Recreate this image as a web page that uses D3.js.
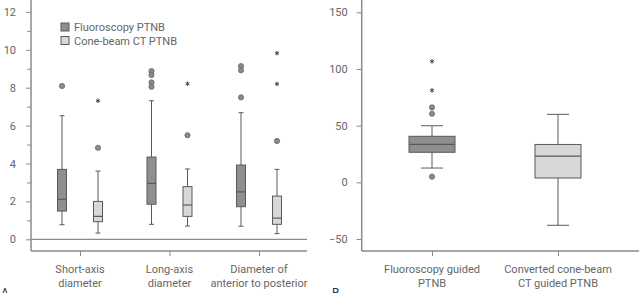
<!DOCTYPE html>
<html>
<head>
<meta charset="utf-8">
<script src="https://cdn.jsdelivr.net/npm/d3@7"></script>
<style>
  body { margin: 0; background: #fff; }
  svg text { font-family: Roboto, "Noto Sans", sans-serif; fill: #666; }
</style>
</head>
<body>
<svg id="chart" width="639" height="293"></svg>
<script>
// Panel A: lesion size (cm)
const categoriesA = ["Short-axis|diameter", "Long-axis|diameter", "Diameter of|anterior to posterior"];
const seriesA = ["Fluoroscopy PTNB", "Cone-beam CT PTNB"];
// [low whisker, Q1, median, Q3, high whisker] per category
const fluoroA = [[0.77, 1.49, 2.11, 3.69, 6.52], [0.79, 1.85, 2.95, 4.34, 7.31], [0.69, 1.72, 2.50, 3.92, 6.68]];
const coneA = [[0.33, 0.93, 1.21, 2.0, 3.6], [0.70, 1.21, 1.81, 2.78, 3.71], [0.30, 0.79, 1.12, 2.28, 3.69]];
const fluoroOutCircA = [[8.09], [8.88, 8.67, 8.28, 8.05], [9.14, 8.92, 7.49]];
const fluoroOutStarA = [[], [], []];
const coneOutCircA = [[4.83], [5.49], [5.19]];
const coneOutStarA = [[7.31], [8.21], [9.82, 8.2]];
const ticksA = [0, 2, 4, 6, 8, 10, 12];

// Panel B
const categoriesB = ["Fluoroscopy guided|PTNB", "Converted cone-beam|CT guided PTNB"];
const statsB = [[12.6, 26.5, 33.5, 40.6, 49.9], [-37.9, 3.8, 23.2, 33.4, 60]];
const outCircB = [[66.1, 60.5, 5.0], []];
const outStarB = [[106.7, 81.1], []];
const ticksB = [-50, 0, 50, 100, 150];

const fills = ["#8f8f8f", "#d8d8d8"];
const stroke = "#5a5a5a";
const axisColor = "#8a8a8a";

const svg = d3.select("#chart");
const star = d3.symbol().type(d3.symbolAsterisk).size(14);

function drawLabels(g, x, cats, y0) {
  cats.forEach(c => {
    const t = g.append("text").attr("text-anchor", "middle").attr("font-size", 11);
    c.split("|").forEach((line, i) => {
      t.append("tspan").attr("x", x(c)).attr("y", y0 + i * 14).text(line);
    });
  });
}

function drawBox(g, cx, w, capW, s, y, fill) {
  const [lo, q1, med, q3, hi] = s;
  g.append("line").attr("x1", cx).attr("x2", cx).attr("y1", y(hi)).attr("y2", y(q3)).attr("stroke", stroke);
  g.append("line").attr("x1", cx).attr("x2", cx).attr("y1", y(q1)).attr("y2", y(lo)).attr("stroke", stroke);
  [lo, hi].forEach(v => g.append("line").attr("x1", cx - capW / 2).attr("x2", cx + capW / 2)
    .attr("y1", y(v)).attr("y2", y(v)).attr("stroke", stroke));
  g.append("rect").attr("x", cx - w / 2).attr("y", y(q3)).attr("width", w).attr("height", y(q1) - y(q3))
    .attr("fill", fill).attr("stroke", stroke);
  g.append("line").attr("x1", cx - w / 2).attr("x2", cx + w / 2).attr("y1", y(med)).attr("y2", y(med))
    .attr("stroke", stroke).attr("stroke-width", 1.2);
}

function drawOutliers(g, cx, circ, stars, y) {
  circ.forEach(v => g.append("circle").attr("cx", cx).attr("cy", y(v)).attr("r", 2.6)
    .attr("fill", "#8a8a8a").attr("stroke", "#666").attr("stroke-width", 0.8));
  stars.forEach(v => g.append("path").attr("d", star)
    .attr("transform", `translate(${cx},${y(v)})`)
    .attr("fill", "none").attr("stroke", "#444").attr("stroke-width", 1));
}

function styleAxis(a) {
  a.select(".domain").attr("stroke", axisColor).attr("stroke-width", 1.5);
  a.selectAll(".tick line").attr("stroke", axisColor);
  a.selectAll(".tick text").attr("font-size", 11).style("fill", "#666")
    .attr("font-family", "Roboto, sans-serif");
}

// ---- Panel A ----
const yA = d3.scaleLinear().domain([0, 12]).range([239.3, 11.9]);
const xA = d3.scalePoint().domain(categoriesA).range([80, 259]);
const gA = svg.append("g");

const yAxisA = gA.append("g").attr("transform", "translate(31,0)")
  .call(d3.axisLeft(yA).tickValues(ticksA).tickSize(5).tickFormat(d3.format("d")));
yAxisA.select(".domain").attr("d", "M0,0V251");
styleAxis(yAxisA);
yAxisA.selectAll(".tick text").attr("x", -15);
gA.append("g").attr("transform", "translate(31,0)")
  .call(d3.axisLeft(yA).tickValues(d3.range(1, 12, 2)).tickSize(4).tickFormat(""))
  .call(a => { a.select(".domain").remove(); a.selectAll("line").attr("stroke", axisColor); });

const xAxisA = gA.append("g").attr("transform", "translate(0,251)")
  .call(d3.axisBottom(xA).tickSize(5).tickFormat(""));
xAxisA.select(".domain").attr("d", "M31,0H307");
styleAxis(xAxisA);
gA.append("line").attr("x1", 31).attr("x2", 307).attr("y1", yA(0)).attr("y2", yA(0))
  .attr("stroke", axisColor).attr("stroke-width", 1.2);

drawLabels(gA, xA, categoriesA, 273);

categoriesA.forEach((c, i) => {
  const cx = xA(c);
  drawBox(gA, cx - 18, 9, 5, fluoroA[i], yA, fills[0]);
  drawBox(gA, cx + 18, 9, 5, coneA[i], yA, fills[1]);
  drawOutliers(gA, cx - 18, fluoroOutCircA[i], fluoroOutStarA[i], yA);
  drawOutliers(gA, cx + 18, coneOutCircA[i], coneOutStarA[i], yA);
});

// legend
seriesA.forEach((s, i) => {
  gA.append("rect").attr("x", 61).attr("y", 23 + i * 13.5).attr("width", 8).attr("height", 8)
    .attr("fill", fills[i]).attr("stroke", stroke);
  gA.append("text").attr("x", 74).attr("y", 31 + i * 13.5).attr("font-size", 11).text(s);
});

gA.append("text").attr("x", 1).attr("y", 297).attr("font-size", 12).style("fill", "#333").text("A");

// ---- Panel B ----
const yB = d3.scaleLinear().domain([-50, 150]).range([239, 12.3]);
const xB = d3.scalePoint().domain(categoriesB).range([432, 558]);
const gB = svg.append("g");

const yAxisB = gB.append("g").attr("transform", "translate(361.7,0)")
  .call(d3.axisLeft(yB).tickValues(ticksB).tickSize(5));
yAxisB.select(".domain").attr("d", "M0,0V251");
styleAxis(yAxisB);
yAxisB.selectAll(".tick text").attr("x", -14);

const xAxisB = gB.append("g").attr("transform", "translate(0,251)")
  .call(d3.axisBottom(xB).tickSize(5).tickFormat(""));
xAxisB.select(".domain").attr("d", "M361.7,0H639");
styleAxis(xAxisB);

drawLabels(gB, xB, categoriesB, 273);

categoriesB.forEach((c, i) => {
  const cx = xB(c);
  drawBox(gB, cx, 46, 22, statsB[i], yB, fills[i]);
  drawOutliers(gB, cx, outCircB[i], outStarB[i], yB);
});

gB.append("text").attr("x", 332).attr("y", 297).attr("font-size", 12).style("fill", "#333").text("B");
</script>
</body>
</html>
